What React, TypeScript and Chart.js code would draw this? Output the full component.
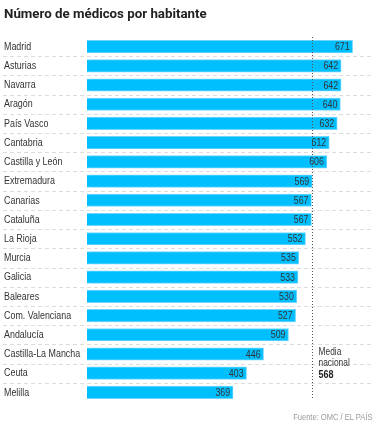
import React, { useEffect, useRef } from "react";
import { Chart, registerables } from "chart.js";
Chart.register(...registerables);

const regions = [
  "Madrid", "Asturias", "Navarra", "Aragón", "País Vasco", "Cantabria",
  "Castilla y León", "Extremadura", "Canarias", "Cataluña", "La Rioja",
  "Murcia", "Galicia", "Baleares", "Com. Valenciana", "Andalucía",
  "Castilla-La Mancha", "Ceuta", "Melilla",
];
const doctors = [671, 642, 642, 640, 632, 612, 606, 569, 567, 567, 552, 535, 533, 530, 527, 509, 446, 403, 369];
const nationalMean = 568;
const meanLabel = ["Media", "nacional"];
const titleText = "Número de médicos por habitante";
const sourceText = "Fuente: OMC / EL PAÍS";

const FONT = "'Liberation Sans', Arial, sans-serif";
const TITLE_FONT = "Roboto, 'Noto Sans', sans-serif";

function condensedText(ctx: CanvasRenderingContext2D, text: string, x: number, y: number, sx: number) {
  ctx.save();
  ctx.translate(x, y);
  ctx.scale(sx, 1);
  ctx.fillText(text, 0, 0);
  ctx.restore();
}

const overlayPlugin = {
  id: "overlay",
  beforeDatasetsDraw(chart: any) {
    const { ctx, scales } = chart;
    const y = scales.y;
    ctx.save();
    ctx.strokeStyle = "#dcdcdc";
    ctx.lineWidth = 1;
    ctx.setLineDash([4, 3]);
    for (let i = 0; i < regions.length - 1; i++) {
      const yy = Math.round((y.getPixelForValue(i) + y.getPixelForValue(i + 1)) / 2) + 0.5;
      ctx.beginPath();
      ctx.moveTo(3, yy);
      ctx.lineTo(373, yy);
      ctx.stroke();
    }
    ctx.setLineDash([]);
    // category labels
    ctx.font = `10px ${FONT}`;
    ctx.fillStyle = "#333";
    ctx.textAlign = "left";
    ctx.textBaseline = "middle";
    regions.forEach((r, i) => {
      condensedText(ctx, r, 4, y.getPixelForValue(i) + 0.5, 0.89);
    });
    ctx.restore();
  },
  afterDatasetsDraw(chart: any) {
    const { ctx, scales, chartArea } = chart;
    const x = scales.x;
    const y = scales.y;
    ctx.save();
    // value labels
    ctx.font = `11px ${FONT}`;
    ctx.fillStyle = "#333";
    ctx.textAlign = "right";
    ctx.textBaseline = "middle";
    doctors.forEach((v, i) => {
      condensedText(ctx, String(v), x.getPixelForValue(v) - 3, y.getPixelForValue(i) + 0.5, 0.8);
    });
    // mean line
    const mx = Math.round(x.getPixelForValue(nationalMean)) + 0.5;
    ctx.strokeStyle = "#555";
    ctx.lineWidth = 1;
    ctx.setLineDash([1, 2]);
    ctx.beginPath();
    ctx.moveTo(mx, chartArea.top);
    ctx.lineTo(mx, chartArea.bottom - 2);
    ctx.stroke();
    // mean text
    ctx.textAlign = "left";
    ctx.textBaseline = "middle";
    ctx.font = `10px ${FONT}`;
    ctx.fillStyle = "#333";
    const ty = y.getPixelForValue(16) - 2;
    condensedText(ctx, meanLabel[0], mx + 6, ty, 0.84);
    condensedText(ctx, meanLabel[1], mx + 6, ty + 11.5, 0.84);
    ctx.font = `bold 10px ${FONT}`;
    ctx.fillStyle = "#222";
    condensedText(ctx, String(nationalMean), mx + 6, ty + 23, 0.9);
    ctx.restore();
  },
};

export default function App() {
  const ref = useRef<HTMLCanvasElement>(null);
  useEffect(() => {
    document.body.style.margin = "0";
    const chart = new Chart(ref.current!, {
      type: "bar",
      data: {
        labels: regions,
        datasets: [
          {
            data: doctors,
            backgroundColor: "#00bfff",
            borderColor: "#6fd6ff",
            borderWidth: 1,
            borderSkipped: "left",
            barThickness: 12.5,
          },
        ],
      },
      options: {
        indexAxis: "y",
        animation: false,
        responsive: false,
        maintainAspectRatio: false,
        layout: { padding: { left: 4, right: 4, top: 37, bottom: 23 } },
        plugins: { legend: { display: false }, tooltip: { enabled: false }, title: { display: false } },
        scales: {
          x: { display: false, min: 0, max: 720 },
          y: {
            grid: { display: false },
            border: { display: false },
            ticks: { display: false },
            afterFit: (s: any) => { s.width = 83; },
          },
        },
      },
      plugins: [overlayPlugin],
    });
    return () => chart.destroy();
  }, []);
  return (
    <div style={{ position: "relative", width: 376, height: 425, background: "#fff" }}>
      <canvas ref={ref} width={376} height={425} style={{ position: "absolute", left: 0, top: 0 }} />
      <div style={{ position: "absolute", left: 4, top: 6, font: `bold 13.3px ${TITLE_FONT}`, color: "#222", whiteSpace: "nowrap" }}>{titleText}</div>
      <div style={{ position: "absolute", right: 3, top: 412, font: `9px ${FONT}`, color: "#9a9a9a", whiteSpace: "nowrap", transform: "scaleX(0.84)", transformOrigin: "right center" }}>{sourceText}</div>
    </div>
  );
}
